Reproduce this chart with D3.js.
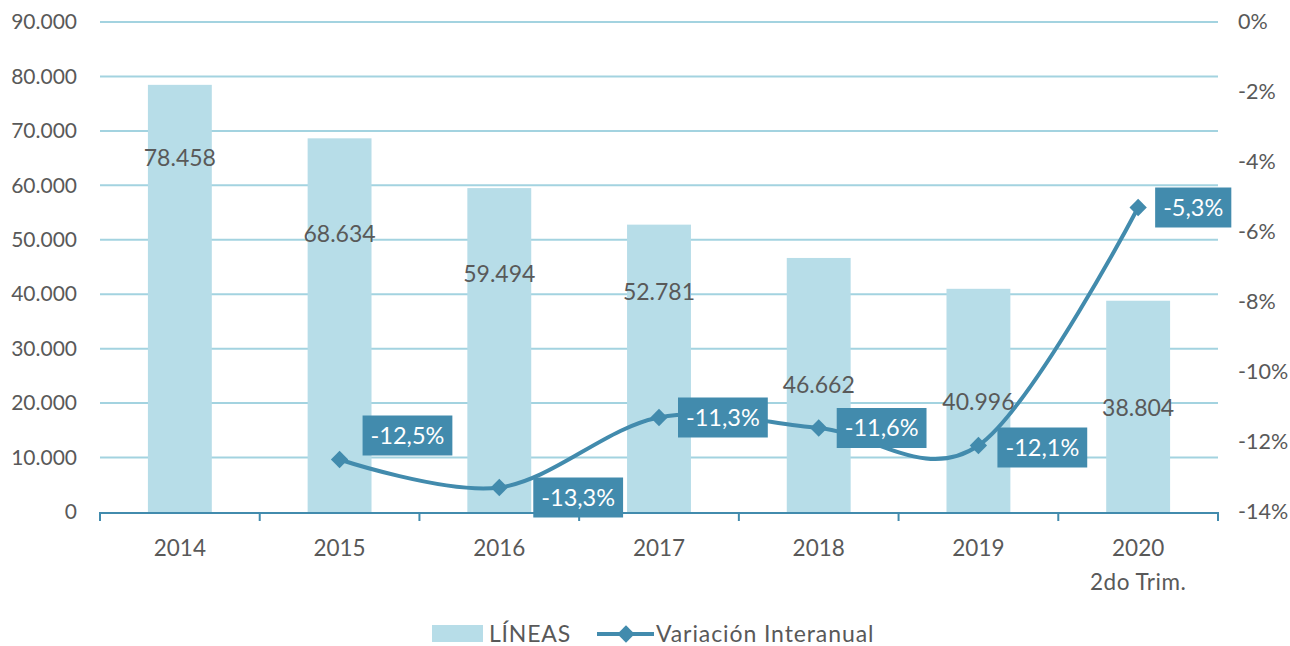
<!DOCTYPE html>
<html lang="es">
<head>
    <meta charset="UTF-8">
    <title>Líneas y variación interanual</title>
    <script src="https://d3js.org/d3.v7.min.js"></script>
    <style>
        body { margin: 0; background: #fff; }
        text { font-family: Lato, "Open Sans", sans-serif; }
    </style>
</head>
<body>
    <svg width="1290" height="646"></svg>
    <script>
        // data
        const years = ['2014', '2015', '2016', '2017', '2018', '2019', '2020'];
        const yearSub = ['', '', '', '', '', '', '2do Trim.'];
        const lineas = [78458, 68634, 59494, 52781, 46662, 40996, 38804];
        const variacion = [null, -12.5, -13.3, -11.3, -11.6, -12.1, -5.3];
        const leftTicks = [0, 10000, 20000, 30000, 40000, 50000, 60000, 70000, 80000, 90000];
        const rightTicks = [0, -2, -4, -6, -8, -10, -12, -14];

        // where excel left the bar labels (in left-axis units) and the box nudges
        const barLabelAt = [65000, 51000, 43700, 40400, 23300, 20200, 19100];
        const boxNudge = [null, [4, -24], [15, 10], [0, 0], [-1, 0], [0, 2], [-2, 0]];

        const svg = d3.select('svg');
        const margin = {left: 100, right: 1218, top: 22, bottom: 512};
        const textCol = '#595959';
        const barCol = '#b7dde8';
        const lineCol = '#428bad';
        const gridCol = '#a3d3e0';

        const x = d3.scaleBand()
            .domain(years)
            .range([margin.left, margin.right])
            .paddingInner(0.6)
            .paddingOuter(0.3);

        const y = d3.scaleLinear().domain([0, 90000]).range([margin.bottom, margin.top]);
        const y2 = d3.scaleLinear().domain([-14, 0]).range([margin.bottom, margin.top]);

        const fmtK = d3.formatLocale({decimal: ',', thousands: '.', grouping: [3], currency: ['', '']}).format(',d');
        const fmtPct = v => (v.toFixed(1) + '%').replace('.', ',');

        // gridlines
        svg.append('g')
            .selectAll('line')
            .data(leftTicks.filter(d => d > 0))
            .join('line')
            .attr('x1', margin.left).attr('x2', margin.right)
            .attr('y1', d => y(d)).attr('y2', d => y(d))
            .attr('stroke', gridCol).attr('stroke-width', 2);

        // left axis
        const yAxis = d3.axisLeft(y).tickValues(leftTicks).tickFormat(fmtK).tickSize(0).tickPadding(23);
        const gl = svg.append('g').attr('transform', `translate(${margin.left},0)`).call(yAxis);
        gl.select('.domain').remove();
        gl.selectAll('text').attr('fill', textCol).style('font-size', '21px');

        // right axis
        const y2Axis = d3.axisRight(y2).tickValues(rightTicks).tickFormat(d => d + '%').tickSize(0).tickPadding(20);
        const gr = svg.append('g').attr('transform', `translate(${margin.right},0)`).call(y2Axis);
        gr.select('.domain').remove();
        gr.selectAll('text').attr('fill', textCol).style('font-size', '21.5px');

        // bars
        svg.append('g')
            .selectAll('rect')
            .data(lineas)
            .join('rect')
            .attr('x', (d, i) => x(years[i]))
            .attr('width', x.bandwidth())
            .attr('y', d => y(d))
            .attr('height', d => y(0) - y(d))
            .attr('fill', barCol);

        // bottom axis
        const step = x.step();
        const edges = d3.range(years.length + 1).map(i => margin.left + i * step);
        const gb = svg.append('g');
        gb.append('line')
            .attr('x1', margin.left).attr('x2', margin.right)
            .attr('y1', y(0) + 1).attr('y2', y(0) + 1)
            .attr('stroke', lineCol).attr('stroke-width', 2);
        gb.selectAll('.tk')
            .data(edges)
            .join('line')
            .attr('class', 'tk')
            .attr('x1', d => d).attr('x2', d => d)
            .attr('y1', y(0)).attr('y2', y(0) + 9)
            .attr('stroke', lineCol).attr('stroke-width', 2);
        gb.selectAll('.cat')
            .data(years)
            .join('text')
            .attr('class', 'cat')
            .attr('x', d => x(d) + x.bandwidth() / 2)
            .attr('y', 556)
            .attr('text-anchor', 'middle')
            .attr('fill', textCol)
            .style('font-size', '22.5px')
            .text(d => d);
        gb.selectAll('.sub')
            .data(yearSub)
            .join('text')
            .attr('class', 'sub')
            .attr('x', (d, i) => x(years[i]) + x.bandwidth() / 2)
            .attr('y', 590)
            .attr('text-anchor', 'middle')
            .attr('fill', textCol)
            .style('font-size', '22.5px')
            .style('letter-spacing', '0.5px')
            .text(d => d);

        // bar value labels
        svg.append('g')
            .selectAll('text')
            .data(lineas)
            .join('text')
            .attr('x', (d, i) => x(years[i]) + x.bandwidth() / 2)
            .attr('y', (d, i) => y(barLabelAt[i]))
            .attr('dy', '0.35em')
            .attr('text-anchor', 'middle')
            .attr('fill', textCol)
            .style('font-size', '23px')
            .text(d => fmtK(d));

        // line
        const pts = variacion.map((v, i) => ({v, i})).filter(d => d.v !== null);
        const cx = d => x(years[d.i]) + x.bandwidth() / 2;
        const line = d3.line()
            .x(cx)
            .y(d => y2(d.v))
            .curve(d3.curveCardinal.tension(0));
        svg.append('path')
            .datum(pts)
            .attr('d', line)
            .attr('fill', 'none')
            .attr('stroke', lineCol)
            .attr('stroke-width', 4);

        const diamond = d3.symbol().type(d3.symbolSquare).size(150);
        svg.append('g')
            .selectAll('path')
            .data(pts)
            .join('path')
            .attr('d', diamond)
            .attr('transform', d => `translate(${cx(d)},${y2(d.v)}) rotate(45)`)
            .attr('fill', lineCol);

        // label boxes
        const lbl = svg.append('g')
            .selectAll('g')
            .data(pts)
            .join('g')
            .attr('transform', d => {
                const n = boxNudge[d.i];
                return `translate(${cx(d) + 19 + n[0]},${y2(d.v) + n[1]})`;
            });
        lbl.append('text')
            .attr('x', 8)
            .attr('dy', '0.35em')
            .attr('fill', '#fff')
            .style('font-size', '23.5px')
            .text(d => fmtPct(d.v));
        lbl.each(function () {
            const g = d3.select(this);
            const bb = g.select('text').node().getBBox();
            g.insert('rect', 'text')
                .attr('x', 0)
                .attr('y', -20)
                .attr('width', bb.width + 16)
                .attr('height', 40)
                .attr('fill', lineCol);
        });

        // legend
        const lg = svg.append('g').attr('transform', 'translate(0,634)');
        lg.append('rect').attr('x', 432).attr('y', -9).attr('width', 51).attr('height', 17).attr('fill', barCol);
        lg.append('text').attr('x', 489).attr('dy', '0.35em').attr('fill', textCol)
            .style('font-size', '23px').style('letter-spacing', '0.8px').text('LÍNEAS');
        lg.append('line').attr('x1', 597).attr('x2', 654).attr('y1', 0).attr('y2', 0)
            .attr('stroke', lineCol).attr('stroke-width', 4);
        lg.append('path').attr('d', diamond).attr('transform', 'translate(626,0) rotate(45)').attr('fill', lineCol);
        lg.append('text').attr('x', 656).attr('dy', '0.35em').attr('fill', textCol)
            .style('font-size', '23px').style('letter-spacing', '0.9px').text('Variación Interanual');
    </script>
</body>
</html>
